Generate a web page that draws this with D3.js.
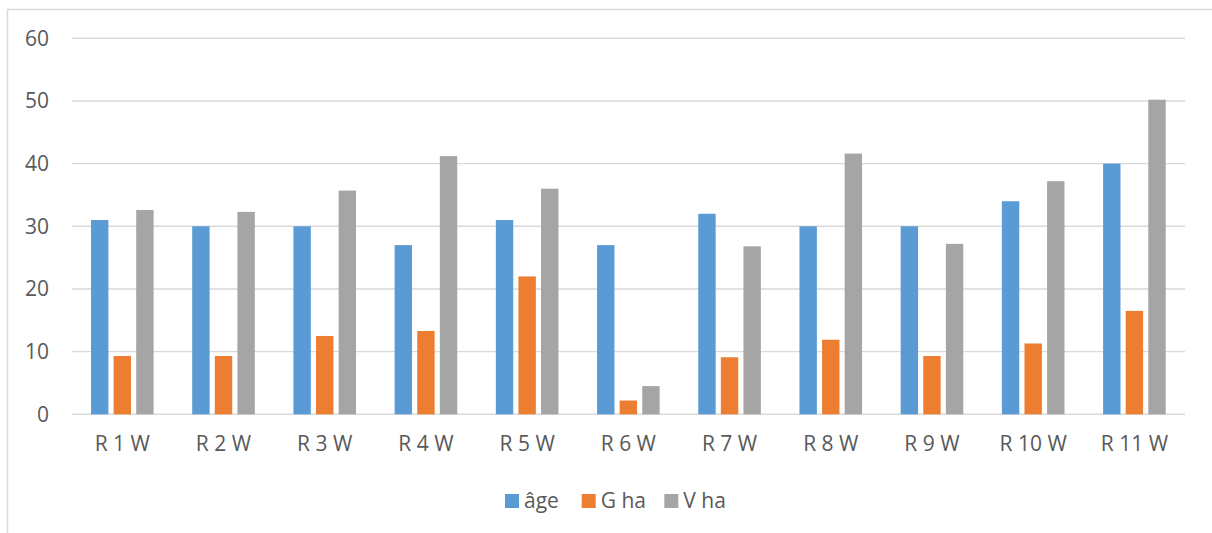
<!DOCTYPE html>
<html>
<head>
<meta charset="utf-8">
<script src="https://cdn.jsdelivr.net/npm/d3@7"></script>
<style>
  body { margin: 0; background: #fff; }
  svg { display: block; font-family: "Open Sans", sans-serif; }
</style>
</head>
<body>
<div id="chart"></div>
<script>
var categories = ["R 1 W", "R 2 W", "R 3 W", "R 4 W", "R 5 W", "R 6 W", "R 7 W", "R 8 W", "R 9 W", "R 10 W", "R 11 W"];
var ageValues = [31, 30, 30, 27, 31, 27, 32, 30, 30, 34, 40];
var gHaValues = [9.3, 9.3, 12.5, 13.3, 22, 2.2, 9.1, 11.9, 9.3, 11.3, 16.5];
var vHaValues = [32.6, 32.3, 35.7, 41.2, 36, 4.5, 26.8, 41.6, 27.2, 37.2, 50.2];
var seriesNames = ["âge", "G ha", "V ha"];
var seriesColors = ["#5B9BD5", "#ED7D31", "#A5A5A5"];
var yTicks = [0, 10, 20, 30, 40, 50, 60];

function drawChart() {
    var W = 1212, H = 533;
    var svg = d3.select("#chart").append("svg")
        .attr("width", W)
        .attr("height", H);

    // chart frame (right/bottom edges fall outside the picture)
    svg.append("rect")
        .attr("x", 7.5).attr("y", 9.5)
        .attr("width", W + 10).attr("height", H + 10)
        .attr("fill", "none")
        .attr("stroke", "#D9D9D9")
        .attr("stroke-width", 1.5);

    var rows = categories.map(function(c, i) {
        return { name: c, values: [ageValues[i], gHaValues[i], vHaValues[i]] };
    });

    var x0 = d3.scaleBand()
        .domain(categories)
        .range([71.7, 1185])
        .padding(0);

    var x1 = d3.scaleBand()
        .domain(seriesNames)
        .range([0, x0.bandwidth()])
        .paddingInner(0.23)
        .paddingOuter(0.854);

    var y = d3.scaleLinear()
        .domain([0, 60])
        .range([414.3, 38.3]);

    // gridlines
    svg.append("g")
        .selectAll("line")
        .data(yTicks)
        .enter().append("line")
        .attr("x1", 71.7)
        .attr("x2", 1185)
        .attr("y1", function(d) { return y(d); })
        .attr("y2", function(d) { return y(d); })
        .attr("stroke", "#D9D9D9")
        .attr("stroke-width", 1.4);

    // y axis labels
    var yAxis = svg.append("g")
        .attr("transform", "translate(49,0)")
        .call(d3.axisLeft(y).tickValues(yTicks).tickSize(0).tickPadding(0));
    yAxis.select(".domain").remove();
    yAxis.selectAll("text")
        .style("font-size", "21px")
        .style("font-family", "'Open Sans', sans-serif")
        .attr("fill", "#595959");

    // bars
    var groups = svg.append("g")
        .selectAll("g")
        .data(rows)
        .enter().append("g")
        .attr("transform", function(d) { return "translate(" + x0(d.name) + ",0)"; });

    groups.selectAll("rect")
        .data(function(d) {
            return d.values.map(function(v, i) { return { key: seriesNames[i], value: v, i: i }; });
        })
        .enter().append("rect")
        .attr("x", function(d) { return x1(d.key); })
        .attr("width", x1.bandwidth())
        .attr("y", function(d) { return y(d.value); })
        .attr("height", function(d) { return y(0) - y(d.value); })
        .attr("fill", function(d) { return seriesColors[d.i]; });

    // x axis labels
    var xAxis = svg.append("g")
        .attr("transform", "translate(0,436)")
        .call(d3.axisBottom(x0).tickSize(0).tickPadding(0));
    xAxis.select(".domain").remove();
    xAxis.selectAll("text")
        .style("font-size", "21px")
        .style("font-family", "'Open Sans', sans-serif")
        .attr("fill", "#595959");

    // legend
    var legendX = [505, 581.7, 664.3];
    var legend = svg.append("g")
        .selectAll("g")
        .data(seriesNames)
        .enter().append("g")
        .attr("transform", function(d, i) { return "translate(" + legendX[i] + ",494)"; });

    legend.append("rect")
        .attr("width", 14)
        .attr("height", 14)
        .attr("fill", function(d, i) { return seriesColors[i]; });

    legend.append("text")
        .attr("x", 19)
        .attr("y", 14)
        .style("font-size", "21px")
        .attr("fill", "#595959")
        .text(function(d) { return d; });
}

drawChart();
</script>
</body>
</html>
